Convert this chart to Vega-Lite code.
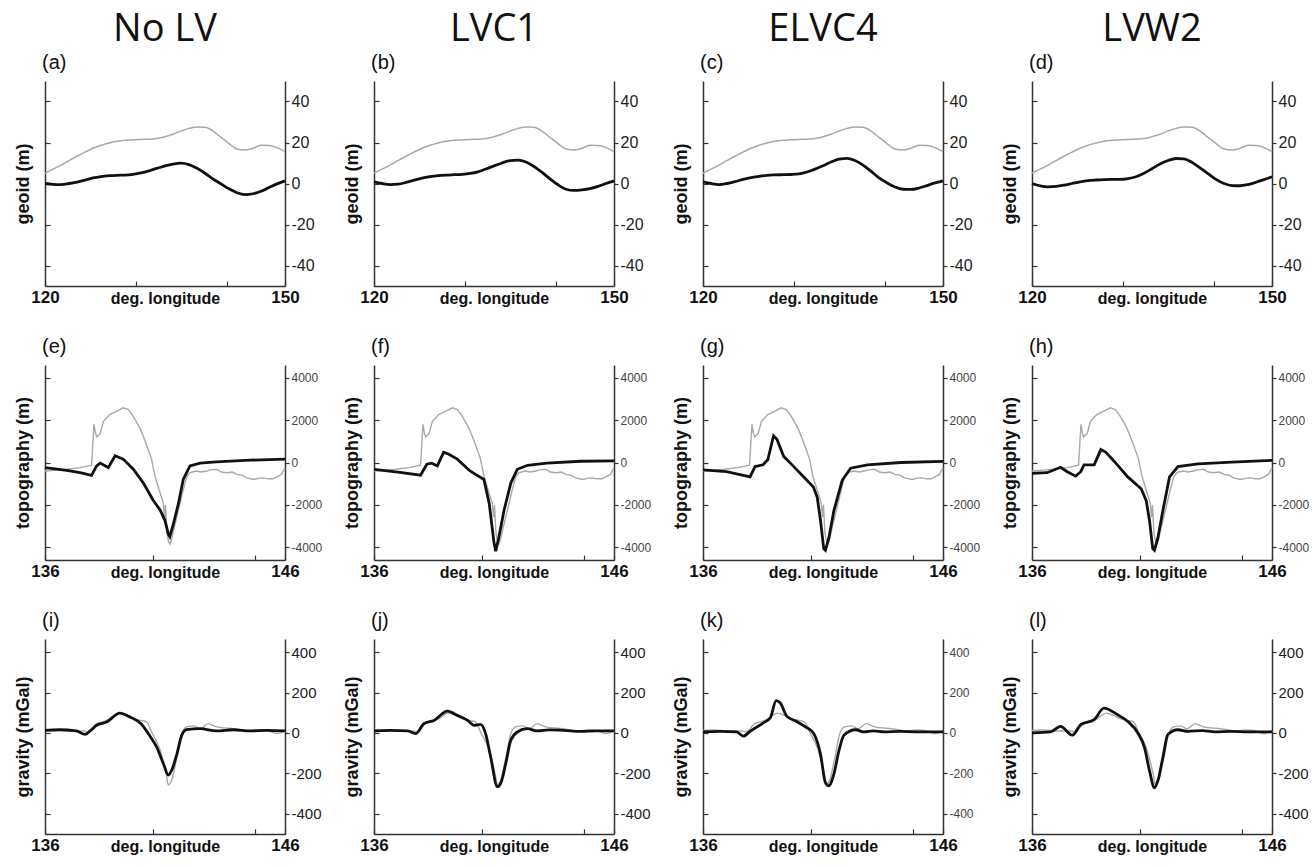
{
"$schema": "https://vega.github.io/schema/vega-lite/v6.json",
"padding": {"left": 14, "top": 11, "right": 5, "bottom": 2},
"background": "white",
"config": {
  "axis": {"grid": false, "domainColor": "#333", "domainWidth": 1.5, "tickColor": "#333", "tickWidth": 1.2, "labelFont": "Liberation Sans", "titleFont": "Liberation Sans", "labelColor": "#222", "titleColor": "#111"},
  "axisBottom": {"tickSize": -5, "labelPadding": 8, "labelBaseline": "top", "labelFlush": false, "labelOverlap": false, "labelFontSize": 17, "labelFontWeight": "bold", "labelColor": "#111", "titleFontSize": 16, "titleFontWeight": "bold", "titleY": 4, "titleBaseline": "top"},
  "axisLeft": {"labels": false, "tickSize": -5, "titleFontSize": 18, "titleFontWeight": "bold", "titlePadding": 12},
  "axisRight": {"tickSize": 4, "labelPadding": 2, "labelExpr": "datum.value<0?'-'+abs(datum.value):''+datum.value"},
  "text": {"font": "Liberation Sans", "fontSize": 20, "align": "left", "baseline": "alphabetic", "dx": -3, "dy": -12, "color": "#111"},
  "title": {"anchor": "middle", "frame": "group", "fontSize": 38, "font": "Open Sans", "fontWeight": "normal", "offset": 0, "color": "#111"},
  "view": {"stroke": null}
},
"datasets": {
  "geoid_obs": [{"lon":120,"val":5},{"lon":121,"val":7},{"lon":122,"val":9},{"lon":123,"val":11.2},{"lon":124,"val":13.3},{"lon":125,"val":15.3},{"lon":126,"val":17.2},{"lon":127,"val":18.7},{"lon":128,"val":19.8},{"lon":129,"val":20.6},{"lon":130,"val":21.1},{"lon":131,"val":21.3},{"lon":132,"val":21.5},{"lon":133,"val":21.6},{"lon":134,"val":22},{"lon":135,"val":22.8},{"lon":136,"val":24},{"lon":137,"val":25.6},{"lon":138,"val":26.9},{"lon":139,"val":27.6},{"lon":140,"val":27.4},{"lon":141,"val":25.6},{"lon":142,"val":22.5},{"lon":143,"val":19.5},{"lon":144,"val":16.8},{"lon":145,"val":16.3},{"lon":146,"val":17.2},{"lon":147,"val":18.6},{"lon":148,"val":18.5},{"lon":149,"val":17.5},{"lon":150,"val":15.5}],
  "geoid_a": [{"lon":120,"val":0},{"lon":121,"val":-0.4},{"lon":122,"val":-0.5},{"lon":123,"val":0},{"lon":124,"val":0.7},{"lon":125,"val":1.6},{"lon":126,"val":2.7},{"lon":127,"val":3.4},{"lon":128,"val":3.8},{"lon":129,"val":4},{"lon":130,"val":4.1},{"lon":131,"val":4.5},{"lon":132,"val":5.2},{"lon":133,"val":6.2},{"lon":134,"val":7.4},{"lon":135,"val":8.6},{"lon":136,"val":9.5},{"lon":137,"val":9.9},{"lon":138,"val":9.2},{"lon":139,"val":7.4},{"lon":140,"val":5},{"lon":141,"val":2.2},{"lon":142,"val":-0.2},{"lon":143,"val":-2.6},{"lon":144,"val":-4.5},{"lon":145,"val":-5.4},{"lon":146,"val":-5},{"lon":147,"val":-3.8},{"lon":148,"val":-2},{"lon":149,"val":-0.2},{"lon":150,"val":1.3}],
  "geoid_b": [{"lon":120,"val":0.8},{"lon":121,"val":0},{"lon":122,"val":-0.5},{"lon":123,"val":-0.3},{"lon":124,"val":0.5},{"lon":125,"val":1.6},{"lon":126,"val":2.6},{"lon":127,"val":3.3},{"lon":128,"val":3.8},{"lon":129,"val":4.1},{"lon":130,"val":4.3},{"lon":131,"val":4.5},{"lon":132,"val":4.9},{"lon":133,"val":5.7},{"lon":134,"val":7.1},{"lon":135,"val":8.6},{"lon":136,"val":10},{"lon":137,"val":11.2},{"lon":138,"val":11.4},{"lon":139,"val":10.5},{"lon":140,"val":8.3},{"lon":141,"val":5.4},{"lon":142,"val":2.3},{"lon":143,"val":-0.6},{"lon":144,"val":-2.8},{"lon":145,"val":-3.4},{"lon":146,"val":-3.1},{"lon":147,"val":-2.5},{"lon":148,"val":-1.4},{"lon":149,"val":0},{"lon":150,"val":1.3}],
  "geoid_c": [{"lon":120,"val":0.8},{"lon":121,"val":0},{"lon":122,"val":-0.5},{"lon":123,"val":0},{"lon":124,"val":0.9},{"lon":125,"val":2},{"lon":126,"val":2.9},{"lon":127,"val":3.5},{"lon":128,"val":4},{"lon":129,"val":4.2},{"lon":130,"val":4.3},{"lon":131,"val":4.4},{"lon":132,"val":4.7},{"lon":133,"val":5.6},{"lon":134,"val":7},{"lon":135,"val":8.7},{"lon":136,"val":10.5},{"lon":137,"val":11.9},{"lon":138,"val":12.3},{"lon":139,"val":11.2},{"lon":140,"val":9},{"lon":141,"val":6},{"lon":142,"val":2.7},{"lon":143,"val":0.3},{"lon":144,"val":-1.7},{"lon":145,"val":-2.8},{"lon":146,"val":-2.9},{"lon":147,"val":-2.2},{"lon":148,"val":-1},{"lon":149,"val":0.3},{"lon":150,"val":1.3}],
  "geoid_d": [{"lon":120,"val":0},{"lon":121,"val":-1.1},{"lon":122,"val":-1.6},{"lon":123,"val":-1.4},{"lon":124,"val":-0.8},{"lon":125,"val":0},{"lon":126,"val":0.8},{"lon":127,"val":1.4},{"lon":128,"val":1.7},{"lon":129,"val":1.9},{"lon":130,"val":2},{"lon":131,"val":2},{"lon":132,"val":2.4},{"lon":133,"val":3.3},{"lon":134,"val":5},{"lon":135,"val":7.2},{"lon":136,"val":9.5},{"lon":137,"val":11.2},{"lon":138,"val":12.2},{"lon":139,"val":12},{"lon":140,"val":10.3},{"lon":141,"val":7.6},{"lon":142,"val":4.8},{"lon":143,"val":2},{"lon":144,"val":0},{"lon":145,"val":-1},{"lon":146,"val":-1.1},{"lon":147,"val":-0.5},{"lon":148,"val":0.6},{"lon":149,"val":1.9},{"lon":150,"val":3.3}],
  "topo_obs": [{"lon":136,"val":-400},{"lon":136.5,"val":-360},{"lon":136.9,"val":-320},{"lon":137.46,"val":-240},{"lon":137.94,"val":-130},{"lon":138.04,"val":1800},{"lon":138.1,"val":1400},{"lon":138.15,"val":1210},{"lon":138.3,"val":1370},{"lon":138.43,"val":1935},{"lon":138.7,"val":2260},{"lon":139,"val":2420},{"lon":139.26,"val":2580},{"lon":139.47,"val":2500},{"lon":139.68,"val":2180},{"lon":139.96,"val":1610},{"lon":140.1,"val":1210},{"lon":140.24,"val":800},{"lon":140.44,"val":160},{"lon":140.58,"val":-645},{"lon":140.8,"val":-1450},{"lon":140.93,"val":-1930},{"lon":140.98,"val":-2580},{"lon":141.02,"val":-2000},{"lon":141.08,"val":-3300},{"lon":141.14,"val":-3700},{"lon":141.2,"val":-3850},{"lon":141.28,"val":-3600},{"lon":141.35,"val":-3220},{"lon":141.56,"val":-2250},{"lon":141.76,"val":-1290},{"lon":141.9,"val":-700},{"lon":142.04,"val":-480},{"lon":142.3,"val":-400},{"lon":142.5,"val":-450},{"lon":142.74,"val":-400},{"lon":142.9,"val":-350},{"lon":143.15,"val":-320},{"lon":143.35,"val":-450},{"lon":143.57,"val":-480},{"lon":143.8,"val":-450},{"lon":144,"val":-560},{"lon":144.2,"val":-600},{"lon":144.4,"val":-725},{"lon":144.7,"val":-800},{"lon":144.9,"val":-750},{"lon":145.1,"val":-725},{"lon":145.3,"val":-770},{"lon":145.5,"val":-770},{"lon":145.7,"val":-650},{"lon":145.85,"val":-560},{"lon":146,"val":-250}],
  "topo_e": [{"lon":136,"val":-240},{"lon":136.9,"val":-370},{"lon":137.46,"val":-480},{"lon":137.94,"val":-610},{"lon":138.15,"val":-160},{"lon":138.3,"val":-30},{"lon":138.5,"val":-150},{"lon":138.64,"val":-240},{"lon":138.92,"val":320},{"lon":139.26,"val":160},{"lon":139.68,"val":-320},{"lon":140.1,"val":-970},{"lon":140.5,"val":-1770},{"lon":140.8,"val":-2250},{"lon":141,"val":-2740},{"lon":141.14,"val":-3380},{"lon":141.2,"val":-3500},{"lon":141.35,"val":-2900},{"lon":141.56,"val":-1930},{"lon":141.76,"val":-800},{"lon":142.04,"val":-160},{"lon":142.46,"val":-30},{"lon":143.15,"val":30},{"lon":144.54,"val":110},{"lon":146,"val":160}],
  "topo_f": [{"lon":136,"val":-320},{"lon":137,"val":-450},{"lon":137.94,"val":-600},{"lon":138.2,"val":-80},{"lon":138.4,"val":-30},{"lon":138.64,"val":-160},{"lon":138.9,"val":480},{"lon":139.1,"val":400},{"lon":139.47,"val":160},{"lon":140,"val":-400},{"lon":140.3,"val":-610},{"lon":140.58,"val":-800},{"lon":140.8,"val":-1930},{"lon":141,"val":-3780},{"lon":141.07,"val":-4190},{"lon":141.2,"val":-3540},{"lon":141.42,"val":-2250},{"lon":141.7,"val":-970},{"lon":141.97,"val":-320},{"lon":142.4,"val":-130},{"lon":143.2,"val":-30},{"lon":144.6,"val":60},{"lon":146,"val":80}],
  "topo_g": [{"lon":136,"val":-350},{"lon":136.98,"val":-435},{"lon":137.96,"val":-680},{"lon":138.17,"val":-190},{"lon":138.5,"val":-110},{"lon":138.7,"val":130},{"lon":138.94,"val":1260},{"lon":139.08,"val":1100},{"lon":139.36,"val":290},{"lon":139.64,"val":-30},{"lon":140.2,"val":-680},{"lon":140.6,"val":-1160},{"lon":140.76,"val":-1640},{"lon":140.9,"val":-2770},{"lon":141.03,"val":-4060},{"lon":141.1,"val":-4140},{"lon":141.24,"val":-3580},{"lon":141.45,"val":-2290},{"lon":141.8,"val":-840},{"lon":142.15,"val":-270},{"lon":142.85,"val":-110},{"lon":144.25,"val":0},{"lon":146,"val":50}],
  "topo_h": [{"lon":136,"val":-515},{"lon":136.63,"val":-480},{"lon":137.19,"val":-225},{"lon":137.47,"val":-435},{"lon":137.82,"val":-645},{"lon":138.03,"val":-435},{"lon":138.17,"val":-110},{"lon":138.59,"val":-110},{"lon":138.87,"val":610},{"lon":139.08,"val":480},{"lon":139.43,"val":50},{"lon":139.99,"val":-680},{"lon":140.55,"val":-1240},{"lon":140.76,"val":-1800},{"lon":140.9,"val":-2770},{"lon":141.03,"val":-4060},{"lon":141.1,"val":-4140},{"lon":141.24,"val":-3580},{"lon":141.45,"val":-2290},{"lon":141.73,"val":-680},{"lon":142.08,"val":-190},{"lon":142.92,"val":-60},{"lon":144.32,"val":15},{"lon":146,"val":100}],
  "grav_obs": [{"lon":136,"val":13},{"lon":136.5,"val":15},{"lon":137,"val":10},{"lon":137.6,"val":10},{"lon":137.8,"val":5},{"lon":138.15,"val":46},{"lon":138.4,"val":55},{"lon":138.7,"val":70},{"lon":139.1,"val":98},{"lon":139.4,"val":87},{"lon":139.7,"val":70},{"lon":140,"val":62},{"lon":140.24,"val":54},{"lon":140.44,"val":5},{"lon":140.8,"val":-85},{"lon":141.07,"val":-216},{"lon":141.14,"val":-257},{"lon":141.28,"val":-233},{"lon":141.5,"val":-118},{"lon":141.7,"val":-3},{"lon":141.9,"val":30},{"lon":142.2,"val":35},{"lon":142.46,"val":21},{"lon":142.8,"val":46},{"lon":143.15,"val":30},{"lon":143.5,"val":25},{"lon":143.85,"val":21},{"lon":144.2,"val":15},{"lon":144.54,"val":10},{"lon":144.9,"val":15},{"lon":145.24,"val":13},{"lon":145.65,"val":-3},{"lon":146,"val":10}],
  "grav_i": [{"lon":136,"val":13},{"lon":136.6,"val":16},{"lon":137.3,"val":10},{"lon":137.67,"val":-7},{"lon":137.88,"val":10},{"lon":138.15,"val":38},{"lon":138.57,"val":54},{"lon":139.12,"val":98},{"lon":139.54,"val":79},{"lon":140,"val":46},{"lon":140.4,"val":-20},{"lon":140.65,"val":-69},{"lon":140.93,"val":-151},{"lon":141.14,"val":-208},{"lon":141.28,"val":-184},{"lon":141.5,"val":-102},{"lon":141.7,"val":-11},{"lon":141.9,"val":16},{"lon":142.46,"val":21},{"lon":143.15,"val":10},{"lon":143.85,"val":16},{"lon":144.54,"val":10},{"lon":145.24,"val":13},{"lon":146,"val":10}],
  "grav_j": [{"lon":136,"val":10},{"lon":136.7,"val":13},{"lon":137.4,"val":10},{"lon":137.74,"val":-3},{"lon":138.08,"val":46},{"lon":138.5,"val":62},{"lon":139.06,"val":108},{"lon":139.47,"val":87},{"lon":139.9,"val":62},{"lon":140.17,"val":38},{"lon":140.44,"val":43},{"lon":140.65,"val":-3},{"lon":140.86,"val":-118},{"lon":141.14,"val":-266},{"lon":141.28,"val":-249},{"lon":141.49,"val":-151},{"lon":141.7,"val":-36},{"lon":141.97,"val":5},{"lon":142.39,"val":21},{"lon":142.8,"val":10},{"lon":143.3,"val":15},{"lon":143.9,"val":13},{"lon":144.6,"val":8},{"lon":145.3,"val":10},{"lon":146,"val":10}],
  "grav_k": [{"lon":136,"val":5},{"lon":136.7,"val":8},{"lon":137.4,"val":5},{"lon":137.68,"val":-16},{"lon":137.96,"val":8},{"lon":138.5,"val":49},{"lon":138.8,"val":74},{"lon":139.05,"val":160},{"lon":139.22,"val":148},{"lon":139.5,"val":82},{"lon":139.9,"val":57},{"lon":140.3,"val":28},{"lon":140.6,"val":0},{"lon":140.9,"val":-107},{"lon":141.1,"val":-246},{"lon":141.24,"val":-262},{"lon":141.45,"val":-205},{"lon":141.66,"val":-90},{"lon":141.87,"val":-11},{"lon":142.36,"val":16},{"lon":142.7,"val":5},{"lon":143.1,"val":10},{"lon":143.55,"val":5},{"lon":144.2,"val":8},{"lon":144.95,"val":5},{"lon":146,"val":5}],
  "grav_l": [{"lon":136,"val":0},{"lon":136.77,"val":5},{"lon":137.19,"val":33},{"lon":137.68,"val":-11},{"lon":138.03,"val":41},{"lon":138.59,"val":66},{"lon":139,"val":123},{"lon":139.57,"val":90},{"lon":139.99,"val":57},{"lon":140.41,"val":0},{"lon":140.69,"val":-74},{"lon":140.9,"val":-189},{"lon":141.1,"val":-271},{"lon":141.24,"val":-238},{"lon":141.45,"val":-123},{"lon":141.66,"val":-8},{"lon":142.08,"val":16},{"lon":142.5,"val":8},{"lon":143.1,"val":12},{"lon":143.6,"val":5},{"lon":144.3,"val":8},{"lon":145,"val":5},{"lon":146,"val":5}]
},
"bounds": "flush",
"columns": 4,
"spacing": {"row": 79, "column": 89},
"concat": [
 {"width": 240, "height": 205, "title": "No LV",
  "layer": [
   {"data": {"name": "geoid_obs"}, "mark": {"type": "line", "color": "#a8a8a8", "strokeWidth": 1.5, "interpolate": "monotone"},
    "encoding": {"x": {"field": "lon", "type": "quantitative", "scale": {"domain": [120, 150], "nice": false, "zero": false}, "axis": {"title": "deg. longitude", "values": [120, 125.9, 131.4, 137, 142.7, 148.3, 150], "labelExpr": "datum.value==120||datum.value==150?datum.label:''"}},
     "y": {"field": "val", "type": "quantitative", "scale": {"domain": [-50, 50], "nice": false, "zero": false}, "axis": {"orient": "left", "title": "geoid (m)", "values": [-40, -20, 0, 20, 40]}}}},
   {"data": {"name": "geoid_a"}, "mark": {"type": "line", "color": "#111", "strokeWidth": 2.8, "interpolate": "monotone"},
    "encoding": {"x": {"field": "lon", "type": "quantitative"}, "y": {"field": "val", "type": "quantitative", "axis": {"orient": "right", "title": null, "values": [-40, -20, 0, 20, 40], "labelFontSize": 16}}}},
   {"data": {"values": [{}]}, "mark": {"type": "text", "text": "(a)"}, "encoding": {"x": {"datum": 120}, "y": {"datum": 50, "axis": null}}}
  ], "resolve": {"axis": {"y": "independent"}}},
 {"width": 240, "height": 205, "title": "LVC1",
  "layer": [
   {"data": {"name": "geoid_obs"}, "mark": {"type": "line", "color": "#a8a8a8", "strokeWidth": 1.5, "interpolate": "monotone"},
    "encoding": {"x": {"field": "lon", "type": "quantitative", "scale": {"domain": [120, 150], "nice": false, "zero": false}, "axis": {"title": "deg. longitude", "values": [120, 125.9, 131.4, 137, 142.7, 148.3, 150], "labelExpr": "datum.value==120||datum.value==150?datum.label:''"}},
     "y": {"field": "val", "type": "quantitative", "scale": {"domain": [-50, 50], "nice": false, "zero": false}, "axis": {"orient": "left", "title": "geoid (m)", "values": [-40, -20, 0, 20, 40]}}}},
   {"data": {"name": "geoid_b"}, "mark": {"type": "line", "color": "#111", "strokeWidth": 2.8, "interpolate": "monotone"},
    "encoding": {"x": {"field": "lon", "type": "quantitative"}, "y": {"field": "val", "type": "quantitative", "axis": {"orient": "right", "title": null, "values": [-40, -20, 0, 20, 40], "labelFontSize": 16}}}},
   {"data": {"values": [{}]}, "mark": {"type": "text", "text": "(b)"}, "encoding": {"x": {"datum": 120}, "y": {"datum": 50, "axis": null}}}
  ], "resolve": {"axis": {"y": "independent"}}},
 {"width": 240, "height": 205, "title": "ELVC4",
  "layer": [
   {"data": {"name": "geoid_obs"}, "mark": {"type": "line", "color": "#a8a8a8", "strokeWidth": 1.5, "interpolate": "monotone"},
    "encoding": {"x": {"field": "lon", "type": "quantitative", "scale": {"domain": [120, 150], "nice": false, "zero": false}, "axis": {"title": "deg. longitude", "values": [120, 125.9, 131.4, 137, 142.7, 148.3, 150], "labelExpr": "datum.value==120||datum.value==150?datum.label:''"}},
     "y": {"field": "val", "type": "quantitative", "scale": {"domain": [-50, 50], "nice": false, "zero": false}, "axis": {"orient": "left", "title": "geoid (m)", "values": [-40, -20, 0, 20, 40]}}}},
   {"data": {"name": "geoid_c"}, "mark": {"type": "line", "color": "#111", "strokeWidth": 2.8, "interpolate": "monotone"},
    "encoding": {"x": {"field": "lon", "type": "quantitative"}, "y": {"field": "val", "type": "quantitative", "axis": {"orient": "right", "title": null, "values": [-40, -20, 0, 20, 40], "labelFontSize": 16}}}},
   {"data": {"values": [{}]}, "mark": {"type": "text", "text": "(c)"}, "encoding": {"x": {"datum": 120}, "y": {"datum": 50, "axis": null}}}
  ], "resolve": {"axis": {"y": "independent"}}},
 {"width": 240, "height": 205, "title": "LVW2",
  "layer": [
   {"data": {"name": "geoid_obs"}, "mark": {"type": "line", "color": "#a8a8a8", "strokeWidth": 1.5, "interpolate": "monotone"},
    "encoding": {"x": {"field": "lon", "type": "quantitative", "scale": {"domain": [120, 150], "nice": false, "zero": false}, "axis": {"title": "deg. longitude", "values": [120, 125.9, 131.4, 137, 142.7, 148.3, 150], "labelExpr": "datum.value==120||datum.value==150?datum.label:''"}},
     "y": {"field": "val", "type": "quantitative", "scale": {"domain": [-50, 50], "nice": false, "zero": false}, "axis": {"orient": "left", "title": "geoid (m)", "values": [-40, -20, 0, 20, 40]}}}},
   {"data": {"name": "geoid_d"}, "mark": {"type": "line", "color": "#111", "strokeWidth": 2.8, "interpolate": "monotone"},
    "encoding": {"x": {"field": "lon", "type": "quantitative"}, "y": {"field": "val", "type": "quantitative", "axis": {"orient": "right", "title": null, "values": [-40, -20, 0, 20, 40], "labelFontSize": 16}}}},
   {"data": {"values": [{}]}, "mark": {"type": "text", "text": "(d)"}, "encoding": {"x": {"datum": 120}, "y": {"datum": 50, "axis": null}}}
  ], "resolve": {"axis": {"y": "independent"}}},
 {"width": 240, "height": 195,
  "layer": [
   {"data": {"name": "topo_obs"}, "mark": {"type": "line", "color": "#a8a8a8", "strokeWidth": 1.4},
    "encoding": {"x": {"field": "lon", "type": "quantitative", "scale": {"domain": [136, 146], "nice": false, "zero": false}, "axis": {"title": "deg. longitude", "values": [136, 140.5, 144.75, 146], "labelExpr": "datum.value==136||datum.value==146?datum.label:''"}},
     "y": {"field": "val", "type": "quantitative", "scale": {"domain": [-4600, 4600], "nice": false, "zero": false}, "axis": {"orient": "left", "title": "topography (m)", "values": [-4000, -2000, 0, 2000, 4000]}}}},
   {"data": {"name": "topo_e"}, "mark": {"type": "line", "color": "#111", "strokeWidth": 2.8},
    "encoding": {"x": {"field": "lon", "type": "quantitative"}, "y": {"field": "val", "type": "quantitative", "axis": {"orient": "right", "title": null, "values": [-4000, -2000, 0, 2000, 4000], "labelFontSize": 12, "labelColor": "#444"}}}},
   {"data": {"values": [{}]}, "mark": {"type": "text", "text": "(e)"}, "encoding": {"x": {"datum": 136}, "y": {"datum": 4600, "axis": null}}}
  ], "resolve": {"axis": {"y": "independent"}}},
 {"width": 240, "height": 195,
  "layer": [
   {"data": {"name": "topo_obs"}, "mark": {"type": "line", "color": "#a8a8a8", "strokeWidth": 1.4},
    "encoding": {"x": {"field": "lon", "type": "quantitative", "scale": {"domain": [136, 146], "nice": false, "zero": false}, "axis": {"title": "deg. longitude", "values": [136, 140.5, 144.75, 146], "labelExpr": "datum.value==136||datum.value==146?datum.label:''"}},
     "y": {"field": "val", "type": "quantitative", "scale": {"domain": [-4600, 4600], "nice": false, "zero": false}, "axis": {"orient": "left", "title": "topography (m)", "values": [-4000, -2000, 0, 2000, 4000]}}}},
   {"data": {"name": "topo_f"}, "mark": {"type": "line", "color": "#111", "strokeWidth": 2.8},
    "encoding": {"x": {"field": "lon", "type": "quantitative"}, "y": {"field": "val", "type": "quantitative", "axis": {"orient": "right", "title": null, "values": [-4000, -2000, 0, 2000, 4000], "labelFontSize": 12, "labelColor": "#444"}}}},
   {"data": {"values": [{}]}, "mark": {"type": "text", "text": "(f)"}, "encoding": {"x": {"datum": 136}, "y": {"datum": 4600, "axis": null}}}
  ], "resolve": {"axis": {"y": "independent"}}},
 {"width": 240, "height": 195,
  "layer": [
   {"data": {"name": "topo_obs"}, "mark": {"type": "line", "color": "#a8a8a8", "strokeWidth": 1.4},
    "encoding": {"x": {"field": "lon", "type": "quantitative", "scale": {"domain": [136, 146], "nice": false, "zero": false}, "axis": {"title": "deg. longitude", "values": [136, 140.5, 144.75, 146], "labelExpr": "datum.value==136||datum.value==146?datum.label:''"}},
     "y": {"field": "val", "type": "quantitative", "scale": {"domain": [-4600, 4600], "nice": false, "zero": false}, "axis": {"orient": "left", "title": "topography (m)", "values": [-4000, -2000, 0, 2000, 4000]}}}},
   {"data": {"name": "topo_g"}, "mark": {"type": "line", "color": "#111", "strokeWidth": 2.8},
    "encoding": {"x": {"field": "lon", "type": "quantitative"}, "y": {"field": "val", "type": "quantitative", "axis": {"orient": "right", "title": null, "values": [-4000, -2000, 0, 2000, 4000], "labelFontSize": 12, "labelColor": "#444"}}}},
   {"data": {"values": [{}]}, "mark": {"type": "text", "text": "(g)"}, "encoding": {"x": {"datum": 136}, "y": {"datum": 4600, "axis": null}}}
  ], "resolve": {"axis": {"y": "independent"}}},
 {"width": 240, "height": 195,
  "layer": [
   {"data": {"name": "topo_obs"}, "mark": {"type": "line", "color": "#a8a8a8", "strokeWidth": 1.4},
    "encoding": {"x": {"field": "lon", "type": "quantitative", "scale": {"domain": [136, 146], "nice": false, "zero": false}, "axis": {"title": "deg. longitude", "values": [136, 140.5, 144.75, 146], "labelExpr": "datum.value==136||datum.value==146?datum.label:''"}},
     "y": {"field": "val", "type": "quantitative", "scale": {"domain": [-4600, 4600], "nice": false, "zero": false}, "axis": {"orient": "left", "title": "topography (m)", "values": [-4000, -2000, 0, 2000, 4000]}}}},
   {"data": {"name": "topo_h"}, "mark": {"type": "line", "color": "#111", "strokeWidth": 2.8},
    "encoding": {"x": {"field": "lon", "type": "quantitative"}, "y": {"field": "val", "type": "quantitative", "axis": {"orient": "right", "title": null, "values": [-4000, -2000, 0, 2000, 4000], "labelFontSize": 12, "labelColor": "#444"}}}},
   {"data": {"values": [{}]}, "mark": {"type": "text", "text": "(h)"}, "encoding": {"x": {"datum": 136}, "y": {"datum": 4600, "axis": null}}}
  ], "resolve": {"axis": {"y": "independent"}}},
 {"width": 240, "height": 195,
  "layer": [
   {"data": {"name": "grav_obs"}, "mark": {"type": "line", "color": "#a8a8a8", "strokeWidth": 1.4, "interpolate": "monotone"},
    "encoding": {"x": {"field": "lon", "type": "quantitative", "scale": {"domain": [136, 146], "nice": false, "zero": false}, "axis": {"title": "deg. longitude", "values": [136, 140.5, 144.75, 146], "labelExpr": "datum.value==136||datum.value==146?datum.label:''"}},
     "y": {"field": "val", "type": "quantitative", "scale": {"domain": [-500, 465], "nice": false, "zero": false}, "axis": {"orient": "left", "title": "gravity (mGal)", "values": [-400, -200, 0, 200, 400]}}}},
   {"data": {"name": "grav_i"}, "mark": {"type": "line", "color": "#111", "strokeWidth": 2.8, "interpolate": "monotone"},
    "encoding": {"x": {"field": "lon", "type": "quantitative"}, "y": {"field": "val", "type": "quantitative", "axis": {"orient": "right", "title": null, "values": [-400, -200, 0, 200, 400], "labelFontSize": 15}}}},
   {"data": {"values": [{}]}, "mark": {"type": "text", "text": "(i)"}, "encoding": {"x": {"datum": 136}, "y": {"datum": 465, "axis": null}}}
  ], "resolve": {"axis": {"y": "independent"}}},
 {"width": 240, "height": 195,
  "layer": [
   {"data": {"name": "grav_obs"}, "mark": {"type": "line", "color": "#a8a8a8", "strokeWidth": 1.4, "interpolate": "monotone"},
    "encoding": {"x": {"field": "lon", "type": "quantitative", "scale": {"domain": [136, 146], "nice": false, "zero": false}, "axis": {"title": "deg. longitude", "values": [136, 140.5, 144.75, 146], "labelExpr": "datum.value==136||datum.value==146?datum.label:''"}},
     "y": {"field": "val", "type": "quantitative", "scale": {"domain": [-500, 465], "nice": false, "zero": false}, "axis": {"orient": "left", "title": "gravity (mGal)", "values": [-400, -200, 0, 200, 400]}}}},
   {"data": {"name": "grav_j"}, "mark": {"type": "line", "color": "#111", "strokeWidth": 2.8, "interpolate": "monotone"},
    "encoding": {"x": {"field": "lon", "type": "quantitative"}, "y": {"field": "val", "type": "quantitative", "axis": {"orient": "right", "title": null, "values": [-400, -200, 0, 200, 400], "labelFontSize": 15}}}},
   {"data": {"values": [{}]}, "mark": {"type": "text", "text": "(j)"}, "encoding": {"x": {"datum": 136}, "y": {"datum": 465, "axis": null}}}
  ], "resolve": {"axis": {"y": "independent"}}},
 {"width": 240, "height": 195,
  "layer": [
   {"data": {"name": "grav_obs"}, "mark": {"type": "line", "color": "#a8a8a8", "strokeWidth": 1.4, "interpolate": "monotone"},
    "encoding": {"x": {"field": "lon", "type": "quantitative", "scale": {"domain": [136, 146], "nice": false, "zero": false}, "axis": {"title": "deg. longitude", "values": [136, 140.5, 144.75, 146], "labelExpr": "datum.value==136||datum.value==146?datum.label:''"}},
     "y": {"field": "val", "type": "quantitative", "scale": {"domain": [-500, 465], "nice": false, "zero": false}, "axis": {"orient": "left", "title": "gravity (mGal)", "values": [-400, -200, 0, 200, 400]}}}},
   {"data": {"name": "grav_k"}, "mark": {"type": "line", "color": "#111", "strokeWidth": 2.8, "interpolate": "monotone"},
    "encoding": {"x": {"field": "lon", "type": "quantitative"}, "y": {"field": "val", "type": "quantitative", "axis": {"orient": "right", "title": null, "values": [-400, -200, 0, 200, 400], "labelFontSize": 12, "labelColor": "#444"}}}},
   {"data": {"values": [{}]}, "mark": {"type": "text", "text": "(k)"}, "encoding": {"x": {"datum": 136}, "y": {"datum": 465, "axis": null}}}
  ], "resolve": {"axis": {"y": "independent"}}},
 {"width": 240, "height": 195,
  "layer": [
   {"data": {"name": "grav_obs"}, "mark": {"type": "line", "color": "#a8a8a8", "strokeWidth": 1.4, "interpolate": "monotone"},
    "encoding": {"x": {"field": "lon", "type": "quantitative", "scale": {"domain": [136, 146], "nice": false, "zero": false}, "axis": {"title": "deg. longitude", "values": [136, 140.5, 144.75, 146], "labelExpr": "datum.value==136||datum.value==146?datum.label:''"}},
     "y": {"field": "val", "type": "quantitative", "scale": {"domain": [-500, 465], "nice": false, "zero": false}, "axis": {"orient": "left", "title": "gravity (mGal)", "values": [-400, -200, 0, 200, 400]}}}},
   {"data": {"name": "grav_l"}, "mark": {"type": "line", "color": "#111", "strokeWidth": 2.8, "interpolate": "monotone"},
    "encoding": {"x": {"field": "lon", "type": "quantitative"}, "y": {"field": "val", "type": "quantitative", "axis": {"orient": "right", "title": null, "values": [-400, -200, 0, 200, 400], "labelFontSize": 15}}}},
   {"data": {"values": [{}]}, "mark": {"type": "text", "text": "(l)"}, "encoding": {"x": {"datum": 136}, "y": {"datum": 465, "axis": null}}}
  ], "resolve": {"axis": {"y": "independent"}}}
]
}
